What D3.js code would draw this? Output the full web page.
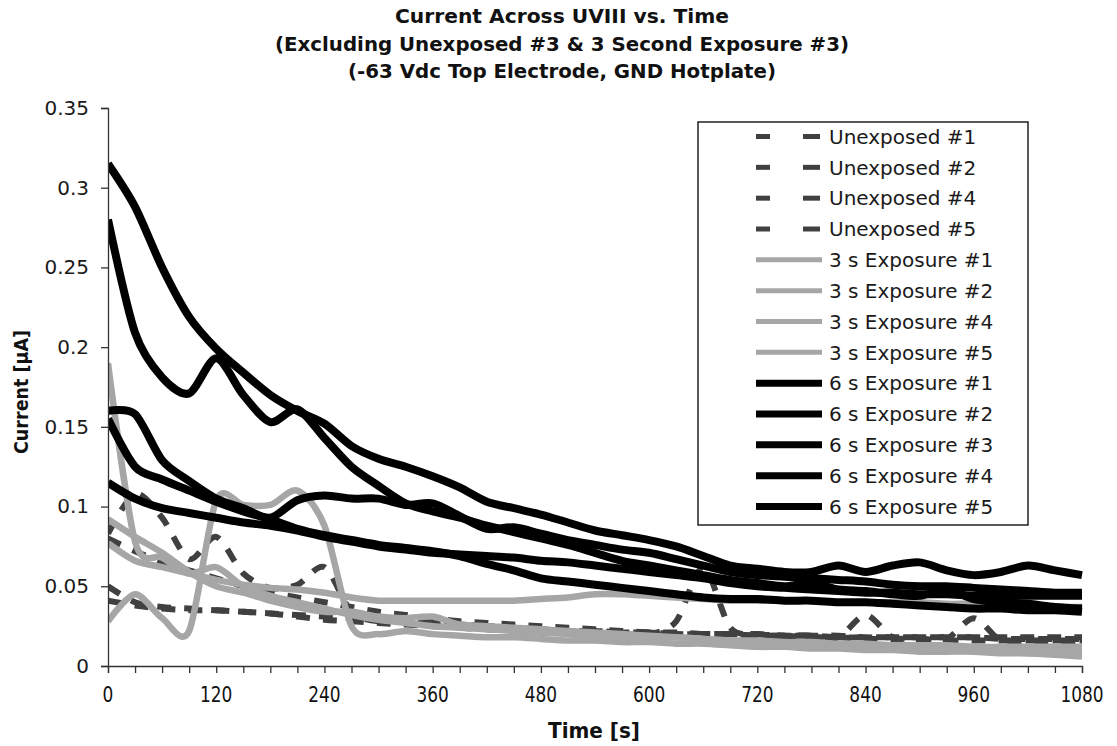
<!DOCTYPE html>
<html>
<head>
<meta charset="utf-8">
<script src="https://cdn.jsdelivr.net/npm/d3@7"></script>
<style>
  body { margin: 0; background: #fff; }
  text { font-family: "DejaVu Sans", Verdana, sans-serif; }
</style>
</head>
<body>
<svg id="chart" width="1117" height="746"></svg>
<script>
// Sample times [s]
const time = [0,30,60,90,120,150,180,210,240,270,300,330,360,390,420,450,480,510,540,570,600,
              630,660,690,720,750,780,810,840,870,900,930,960,990,1020,1050,1080];

// Current [µA] for each sample
const unexposed1 = [.083,.108,.093,.067,.081,.058,.049,.051,.062,.034,.028,.031,.027,.026,.025,.024,.023,.022,.022,
                    .021,.021,.020,.020,.020,.019,.019,.019,.018,.018,.018,.018,.018,.018,.017,.017,.017,.017];
const unexposed2 = [.050,.040,.037,.036,.035,.034,.033,.032,.031,.030,.029,.028,.027,.026,.025,.024,.023,.022,.022,
                    .021,.021,.020,.020,.020,.020,.019,.019,.019,.018,.018,.018,.018,.018,.018,.018,.018,.018];
const unexposed4 = [.041,.038,.036,.035,.035,.034,.033,.031,.029,.028,.027,.026,.025,.024,.023,.022,.021,.021,.020,
                    .020,.020,.028,.062,.024,.020,.019,.018,.018,.017,.017,.017,.016,.016,.016,.016,.016,.016];
const unexposed5 = [.080,.072,.065,.060,.055,.050,.046,.043,.040,.037,.034,.032,.030,.028,.027,.026,.025,.024,.023,
                    .022,.021,.021,.020,.020,.019,.019,.019,.018,.032,.018,.017,.017,.030,.016,.016,.015,.015];

const exposure3s1 = [.190,.078,.068,.058,.062,.050,.044,.040,.036,.032,.029,.027,.025,.024,.023,.022,.021,.020,.019,
                     .019,.018,.018,.017,.016,.016,.015,.015,.014,.014,.013,.013,.013,.012,.012,.012,.012,.012];
const exposure3s2 = [.028,.045,.030,.022,.104,.101,.101,.110,.088,.025,.020,.022,.020,.019,.018,.018,.017,.016,.016,
                     .015,.015,.014,.014,.013,.012,.012,.011,.011,.010,.010,.009,.009,.009,.008,.008,.008,.008];
const exposure3s4 = [.092,.081,.071,.059,.050,.046,.041,.037,.034,.034,.031,.030,.031,.026,.025,.024,.023,.022,.021,
                     .020,.019,.018,.017,.016,.015,.014,.013,.012,.012,.011,.011,.010,.010,.009,.008,.007,.006];
const exposure3s5 = [.077,.066,.062,.058,.054,.051,.049,.048,.046,.043,.041,.041,.041,.041,.041,.041,.042,.043,.045,
                     .045,.044,.043,.042,.041,.041,.041,.041,.040,.040,.040,.040,.039,.039,.038,.038,.037,.037];

const exposure6s1 = [.315,.288,.250,.219,.199,.184,.170,.160,.152,.138,.130,.125,.119,.112,.103,.099,.095,.090,.085,
                     .082,.079,.075,.069,.063,.061,.059,.059,.063,.059,.063,.065,.060,.057,.059,.063,.060,.057];
const exposure6s2 = [.280,.209,.181,.171,.193,.170,.153,.161,.143,.125,.113,.102,.097,.093,.088,.084,.080,.076,.071,
                     .066,.063,.060,.057,.054,.052,.050,.052,.048,.047,.045,.044,.048,.042,.040,.039,.037,.036];
const exposure6s3 = [.160,.158,.129,.116,.105,.099,.093,.104,.107,.105,.105,.101,.102,.094,.086,.087,.083,.079,.076,
                     .073,.071,.067,.063,.059,.057,.056,.055,.054,.053,.051,.050,.050,.049,.048,.047,.046,.046];
const exposure6s4 = [.155,.125,.117,.110,.103,.097,.092,.086,.082,.079,.076,.074,.072,.069,.064,.060,.055,.053,.051,
                     .049,.047,.045,.043,.042,.042,.041,.041,.040,.040,.039,.038,.037,.036,.036,.035,.035,.034];
const exposure6s5 = [.115,.105,.099,.096,.093,.090,.088,.085,.081,.078,.075,.073,.071,.070,.069,.068,.066,.065,.063,
                     .061,.059,.057,.055,.052,.050,.049,.048,.047,.046,.046,.045,.045,.044,.044,.044,.044,.044];

const seriesNames = ["Unexposed #1","Unexposed #2","Unexposed #4","Unexposed #5",
                     "3 s Exposure #1","3 s Exposure #2","3 s Exposure #4","3 s Exposure #5",
                     "6 s Exposure #1","6 s Exposure #2","6 s Exposure #3","6 s Exposure #4","6 s Exposure #5"];
const seriesValues = [unexposed1, unexposed2, unexposed4, unexposed5,
                      exposure3s1, exposure3s2, exposure3s4, exposure3s5,
                      exposure6s1, exposure6s2, exposure6s3, exposure6s4, exposure6s5];

const xTicks = [0,120,240,360,480,600,720,840,960,1080];
const xMinorTicks = [0,30,60,90,120,150,180,210,240,270,300,330,360,390,420,450,480,510,540,570,600,
                     630,660,690,720,750,780,810,840,870,900,930,960,990,1020,1050,1080];
const yTicks = [0,0.05,0.1,0.15,0.2,0.25,0.3,0.35];

const titleLines = ["Current Across UVIII vs. Time",
                    "(Excluding Unexposed #3 & 3 Second Exposure #3)",
                    "(-63 Vdc Top Electrode, GND Hotplate)"];

// Line styles by group
const styleFor = name => {
  if (name.startsWith("Unexposed")) return {stroke: "#404040", width: 6, dash: "14,13"};
  if (name.startsWith("3 s"))       return {stroke: "#a6a6a6", width: 6.5, dash: null};
  return {stroke: "#000000", width: 8, dash: null};
};

const svg = d3.select("#chart");
svg.append("rect").attr("width", 1117).attr("height", 746).attr("fill", "#fff");

const plot = {left: 108, right: 1082, top: 108, bottom: 666};
const x = d3.scaleLinear().domain([0, 1080]).range([plot.left, plot.right]);
const y = d3.scaleLinear().domain([0, 0.35]).range([plot.bottom, plot.top]);

// Title, fitted to a set width per line
const titleWidths = [334, 574, 428];
titleLines.forEach((t, i) => {
  svg.append("text")
    .attr("x", 562).attr("y", 23 + i * 27.5)
    .attr("text-anchor", "middle")
    .attr("font-family", "DejaVu Sans Condensed, DejaVu Sans, sans-serif")
    .attr("font-weight", "bold")
    .attr("font-size", 20)
    .attr("textLength", titleWidths[i])
    .attr("lengthAdjust", "spacingAndGlyphs")
    .attr("fill", "#111")
    .text(t);
});

// Series lines
const clipId = "plot-clip";
svg.append("clipPath").attr("id", clipId).append("rect")
  .attr("x", plot.left).attr("y", plot.top - 10)
  .attr("width", plot.right - plot.left + 4).attr("height", plot.bottom - plot.top + 10);

const line = d3.line()
  .x((d, i) => x(time[i]))
  .y(d => y(d))
  .curve(d3.curveCardinal.tension(0.15));

const gLines = svg.append("g").attr("clip-path", `url(#${clipId})`);
seriesValues.forEach((vals, i) => {
  const s = styleFor(seriesNames[i]);
  gLines.append("path")
    .datum(vals)
    .attr("d", line)
    .attr("fill", "none")
    .attr("stroke", s.stroke)
    .attr("stroke-width", s.width)
    .attr("stroke-linejoin", "round")
    .attr("stroke-dasharray", s.dash);
});

// Axes
const yAxis = d3.axisLeft(y).tickValues(yTicks).tickSize(7).tickPadding(12)
  .tickFormat(d => d === 0 ? "0" : String(+d.toFixed(2)));
const gy = svg.append("g").attr("transform", `translate(${plot.left},0)`).call(yAxis);
gy.select(".domain").attr("stroke", "#333").attr("stroke-width", 1.3);
gy.selectAll(".tick line").attr("stroke", "#333").attr("stroke-width", 1.3);
gy.selectAll(".tick text").attr("font-size", 20).attr("fill", "#1a1a1a")
  .attr("font-family", "DejaVu Sans, Verdana, sans-serif");

const xAxis = d3.axisBottom(x).tickValues(xMinorTicks).tickSize(7).tickFormat("");
const gx = svg.append("g").attr("transform", `translate(0,${plot.bottom})`).call(xAxis);
gx.select(".domain").attr("stroke", "#333").attr("stroke-width", 1.3);
gx.selectAll(".tick line").attr("stroke", "#333").attr("stroke-width", 1.3);

// Major x labels, narrow face
const xLabelWidth = d => String(d).length * 10.8;
svg.append("g").selectAll("text").data(xTicks).join("text")
  .attr("x", d => x(d)).attr("y", 702)
  .attr("text-anchor", "middle")
  .attr("font-family", "DejaVu Sans Condensed, DejaVu Sans, sans-serif")
  .attr("font-size", 22)
  .attr("textLength", xLabelWidth)
  .attr("lengthAdjust", "spacingAndGlyphs")
  .attr("fill", "#111")
  .text(d => d);

// Axis titles
svg.append("text")
  .attr("x", 594).attr("y", 738)
  .attr("text-anchor", "middle")
  .attr("font-family", "DejaVu Sans Condensed, DejaVu Sans, sans-serif")
  .attr("font-weight", "bold").attr("font-size", 21)
  .attr("textLength", 92).attr("lengthAdjust", "spacingAndGlyphs")
  .attr("fill", "#111")
  .text("Time [s]");

svg.append("text")
  .attr("transform", "translate(28,392) rotate(-90)")
  .attr("text-anchor", "middle")
  .attr("font-family", "DejaVu Sans Condensed, DejaVu Sans, sans-serif")
  .attr("font-weight", "bold").attr("font-size", 19)
  .attr("textLength", 124).attr("lengthAdjust", "spacingAndGlyphs")
  .attr("fill", "#111")
  .text("Current [µA]");

// Legend
const legend = svg.append("g");
legend.append("rect")
  .attr("x", 698).attr("y", 122).attr("width", 330).attr("height", 403)
  .attr("fill", "#fff").attr("stroke", "#222").attr("stroke-width", 1.5);

const legendRow = d3.scaleLinear().domain([0, seriesNames.length - 1]).range([136.5, 506.5]);
seriesNames.forEach((name, i) => {
  const s = styleFor(name);
  const yy = legendRow(i);
  if (s.dash) {
    [[756, 770], [803, 820]].forEach(([a, b]) => {
      legend.append("line").attr("x1", a).attr("x2", b).attr("y1", yy).attr("y2", yy)
        .attr("stroke", s.stroke).attr("stroke-width", 5);
    });
  } else {
    legend.append("line").attr("x1", 756).attr("x2", 822).attr("y1", yy).attr("y2", yy)
      .attr("stroke", s.stroke).attr("stroke-width", name.startsWith("6") ? 7 : 5);
  }
  legend.append("text")
    .attr("x", 829).attr("y", yy).attr("dy", "0.36em")
    .attr("font-size", 20).attr("fill", "#1a1a1a")
    .text(name);
});
</script>
</body>
</html>
